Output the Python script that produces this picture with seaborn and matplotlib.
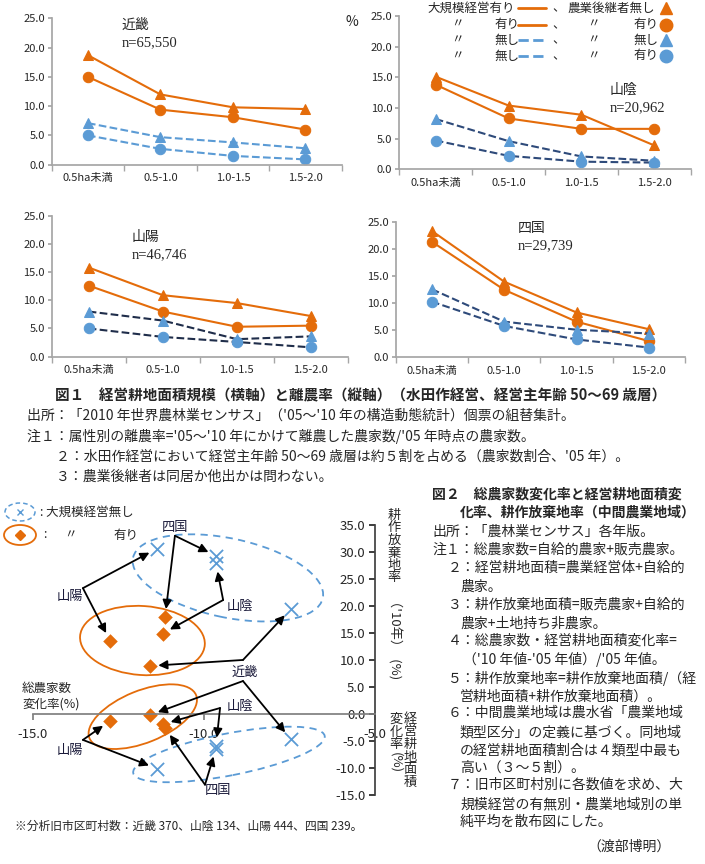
import numpy as np
import matplotlib.pyplot as plt
import seaborn as sns
from matplotlib.patches import Ellipse
from matplotlib.lines import Line2D
from matplotlib.transforms import ScaledTranslation

sns.set_theme(style="ticks")
plt.rcParams['font.family'] = ['Noto Sans CJK JP', 'DejaVu Sans']
plt.rcParams['axes.unicode_minus'] = False

# ---- 図1 のデータ (離農率 %) ----
sizes = ["0.5ha未満", "0.5-1.0", "1.0-1.5", "1.5-2.0"]
regions = ["近畿", "山陰", "山陽", "四国"]
n_farms = ["n=65,550", "n=20,962", "n=46,746", "n=29,739"]

# 大規模経営有り・農業後継者無し
large_nosucc = {"近畿": [18.7, 12.0, 9.8, 9.5], "山陰": [15.1, 10.4, 8.9, 3.9],
                "山陽": [15.8, 10.9, 9.5, 7.2], "四国": [23.4, 14.0, 8.3, 5.2]}
# 大規模経営有り・農業後継者有り
large_succ = {"近畿": [15.0, 9.4, 8.1, 6.0], "山陰": [13.8, 8.3, 6.6, 6.6],
              "山陽": [12.6, 8.0, 5.3, 5.5], "四国": [21.4, 12.5, 6.6, 3.0]}
# 大規模経営無し・農業後継者無し
small_nosucc = {"近畿": [7.1, 4.7, 3.8, 2.8], "山陰": [8.2, 4.6, 2.1, 1.4],
                "山陽": [8.0, 6.4, 3.1, 3.6], "四国": [12.6, 6.6, 5.1, 4.4]}
# 大規模経営無し・農業後継者有り
small_succ = {"近畿": [5.0, 2.7, 1.5, 0.9], "山陰": [4.7, 2.2, 1.25, 1.1],
              "山陽": [5.0, 3.5, 2.6, 1.65], "四国": [10.3, 5.8, 3.3, 1.8]}

# ---- 図2 のデータ (%) ----
sc_regions = ["近畿", "山陰", "山陽", "四国"]
farm_chg_large = [-11.58, -11.21, -12.75, -11.14]
farm_chg_small = [-7.47, -9.65, -11.38, -9.65]
abandon_large = [8.9, 14.9, 13.6, 17.9]
abandon_small = [19.4, 27.9, 30.6, 29.3]
area_chg_large = [-0.2, -1.9, -1.3, -2.6]
area_chg_small = [-4.6, -5.9, -10.1, -6.4]

W, H = 705, 864
ORANGE = "#E46C0A"
BLUE = "#5B9BD5"
GRAY = "#A6A6A6"

fig = plt.figure(figsize=(W / 100, H / 100), dpi=100)


def fx(px):
    return px / W


def fy(py):
    return 1 - py / H


def ftext(px, py, s, **kw):
    kw.setdefault("va", "center")
    kw.setdefault("ha", "left")
    return fig.text(fx(px), fy(py), s, **kw)


# ---- 図1 ----
panel_rect = {
    "近畿": [0.0733, 0.8094, 0.4113, 0.1694],
    "山陰": [0.5664, 0.8040, 0.4133, 0.1775],
    "山陽": [0.0733, 0.5872, 0.4203, 0.1632],
    "四国": [0.5613, 0.5865, 0.4103, 0.1562],
}
title_pos = {"近畿": (122, 25), "山陰": (610, 90), "山陽": (132, 237), "四国": (518, 228)}
dash_col = {"近畿": BLUE, "山陰": "#2E4A7A", "山陽": "#1F2D4A", "四国": "#2E4A7A"}

series = [
    (large_nosucc, ORANGE, "^", "-"),
    (large_succ, ORANGE, "o", "-"),
    (small_nosucc, BLUE, "^", "--"),
    (small_succ, BLUE, "o", "--"),
]

xpos = np.arange(len(sizes))
for reg, nlab in zip(regions, n_farms):
    ax = fig.add_axes(panel_rect[reg])
    for vals, col, mk, ls in series:
        lc = col if ls == "-" else dash_col[reg]
        sns.lineplot(x=xpos, y=vals[reg], ax=ax, color=lc, lw=1.5,
                     linestyle=ls, marker=None)
        sns.lineplot(x=xpos, y=vals[reg], ax=ax, color=col, lw=0,
                     marker=mk, markersize=7.5, markeredgecolor=col)
    ax.set_xlim(-0.5, len(sizes) - 0.5)
    ax.set_ylim(0, 25)
    ax.set_yticks(np.arange(0, 26, 5))
    ax.set_yticklabels([f"{v:.1f}" for v in np.arange(0, 26, 5)], fontsize=8)
    ax.set_xticks(xpos)
    ax.set_xticklabels(sizes, fontsize=8)
    ax.set_xticks(np.arange(-0.5, len(sizes), 1), minor=True)
    ax.tick_params(axis="x", which="major", length=0, pad=6)
    ax.tick_params(axis="x", which="minor", length=4, color=GRAY)
    ax.tick_params(axis="y", length=3, color=GRAY, pad=2)
    sns.despine(ax=ax)
    for sp in ["left", "bottom"]:
        ax.spines[sp].set_color(GRAY)
    ax.set_xlabel("")
    ax.set_ylabel("")
    tx, ty = title_pos[reg]
    ftext(tx, ty, reg, fontsize=10)
    ftext(tx, ty + 18, nlab, fontsize=10.5, family="Liberation Serif")

ftext(345, 22, "%", fontsize=10)

# 凡例 (図1)
leg_rows = [8, 24.5, 40, 56]
leg_left = ["大規模経営有り", "有り", "無し", "無し"]
leg_right = ["農業後継者無し", "有り", "無し", "有り"]
leg_style = [(ORANGE, "-", "^"), (ORANGE, "-", "o"), (BLUE, "--", "^"), (BLUE, "--", "o")]
for i, (yy, lt, rt, (col, ls, mk)) in enumerate(zip(leg_rows, leg_left, leg_right, leg_style)):
    if i == 0:
        ftext(427, yy, lt, fontsize=9)
        ftext(567, yy, rt, fontsize=9)
    else:
        ftext(457, yy, "〃", fontsize=9, ha="center")
        ftext(494, yy, lt, fontsize=9)
        ftext(593, yy, "〃", fontsize=9, ha="center")
        ftext(633, yy, rt, fontsize=9)
    ftext(552, yy, "、", fontsize=9)
    fig.add_artist(Line2D([fx(518), fx(546)], [fy(yy), fy(yy)], color=col, lw=2,
                          linestyle=ls, transform=fig.transFigure))
    fig.add_artist(Line2D([fx(666)], [fy(yy)], color=col, marker=mk, markersize=9,
                          lw=0, transform=fig.transFigure))

# キャプション (図1)
ftext(55, 395, "図１　経営耕地面積規模（横軸）と離農率（縦軸）（水田作経営、経営主年齢 50～69 歳層）",
      fontsize=10.5, fontweight="bold")
ftext(27, 416, "出所：「2010 年世界農林業センサス」（'05～'10 年の構造動態統計）個票の組替集計。", fontsize=10)
ftext(27, 436, "注１：属性別の離農率='05～'10 年にかけて離農した農家数/'05 年時点の農家数。", fontsize=10)
ftext(56, 457, "２：水田作経営において経営主年齢 50～69 歳層は約５割を占める（農家数割合、'05 年）。", fontsize=10)
ftext(56, 477, "３：農業後継者は同居か他出かは問わない。", fontsize=10)

# ---- 図2 ----
ax2 = fig.add_axes([0.0468, 0.0799, 0.4851, 0.3125])
ax2.set_xlim(-15, -5)
ax2.set_ylim(-15, 35)
for xs, ys in [(farm_chg_small, abandon_small), (farm_chg_small, area_chg_small)]:
    sns.scatterplot(x=xs, y=ys, ax=ax2, marker="x", color=BLUE, s=90, linewidth=1.3)
for xs, ys in [(farm_chg_large, abandon_large), (farm_chg_large, area_chg_large)]:
    sns.scatterplot(x=xs, y=ys, ax=ax2, marker="D", color=ORANGE, s=55, linewidth=0)

ax2.spines["left"].set_position(("data", -5))
ax2.spines["bottom"].set_position(("data", 0))
ax2.spines["top"].set_visible(False)
ax2.spines["right"].set_visible(False)
ax2.spines["bottom"].set_color("#808080")
ax2.spines["left"].set_color("#404040")
ax2.set_yticks(np.arange(-15, 36, 5))
ax2.set_yticklabels([f"{v:.1f}" for v in np.arange(-15, 36, 5)], fontsize=9.5)
ax2.set_xticks([-15, -10, -5])
ax2.set_xticklabels(["-15.0", "-10.0", "-5.0"], fontsize=9.5)
ax2.tick_params(axis="y", length=4, pad=3)
ax2.tick_params(axis="x", length=4, color="#808080", pad=6)
ax2.set_xlabel("")
ax2.set_ylabel("")


def add_ellipse(cx, cy, w, h, angle, color, ls):
    tr = fig.dpi_scale_trans + ScaledTranslation(cx, cy, ax2.transData)
    e = Ellipse((0, 0), w / 100, h / 100, angle=angle, fill=False, edgecolor=color,
                lw=1.3, linestyle=ls, transform=tr, clip_on=False)
    ax2.add_patch(e)


add_ellipse(-9.30, 25.2, 194, 79, -12, BLUE, (0, (4, 3)))
add_ellipse(-11.80, 13.6, 125, 69, -4, ORANGE, "-")
add_ellipse(-11.79, -0.5, 115, 52, 22, ORANGE, "-")
add_ellipse(-9.27, -7.5, 195, 42, 11, BLUE, (0, (4, 3)))

# ラベルと矢印
arrow_kw = dict(arrowstyle="-|>", color="black", lw=1.3, shrinkA=0, shrinkB=6,
                mutation_scale=13)
up_start = {"近畿": (-8.86, 10.0), "山陰": (-9.44, 21.1), "山陽": (-13.54, 23.3), "四国": (-10.85, 33.0)}
low_start = {"近畿": (-8.86, 6.1), "山陰": (-9.53, 1.1), "山陽": (-13.54, -4.8), "四国": (-9.97, -13.1)}
for i, reg in enumerate(sc_regions):
    for xs, ys, starts in [(farm_chg_small, abandon_small, up_start),
                           (farm_chg_large, abandon_large, up_start),
                           (farm_chg_small, area_chg_small, low_start),
                           (farm_chg_large, area_chg_large, low_start)]:
        ax2.annotate("", xy=(xs[i], ys[i]), xytext=starts[reg],
                     arrowprops=arrow_kw, annotation_clip=False)

lab_pos = [("近畿", -8.80, 7.8), ("山陰", -8.95, 19.9), ("山陰", -8.95, 1.35),
           ("山陽", -13.92, 21.7), ("山陽", -13.92, -6.7), ("四国", -10.85, 34.5),
           ("四国", -9.59, -14.1)]
for reg, lx, ly in lab_pos:
    ax2.text(lx, ly, reg, fontsize=9.5, ha="center", va="center", color="#1A1A3A",
             clip_on=False)

# 軸ラベル
ftext(22, 688, "総農家数", fontsize=9)
ftext(22, 704, "変化率(%)", fontsize=9)
ftext(394, 509, "\n".join("耕作放棄地率"), fontsize=9.5, ha="center", va="top",
      linespacing=0.95)
ftext(394, 594, "（'10年）  (%)", fontsize=9.5, ha="center", va="top", rotation=-90)
ftext(396, 713, "\n".join("変化率"), fontsize=9.5, ha="center", va="top", linespacing=0.95)
ftext(396, 752, "(%)", fontsize=9.5, ha="center", va="top", rotation=-90)
ftext(410, 713, "\n".join("経営耕地面積"), fontsize=9.5, ha="center", va="top",
      linespacing=0.95)

# 凡例 (図2)
fig.add_artist(Ellipse((fx(20), fy(512)), 30 / W, 18 / H, fill=False, edgecolor=BLUE,
                       lw=1.1, linestyle=(0, (3, 2)), transform=fig.transFigure))
fig.add_artist(Line2D([fx(20)], [fy(512)], marker="x", color=BLUE, markersize=5, lw=0,
                      transform=fig.transFigure))
fig.add_artist(Ellipse((fx(20), fy(535)), 32 / W, 20 / H, fill=False, edgecolor=ORANGE,
                       lw=1.3, transform=fig.transFigure))
fig.add_artist(Line2D([fx(20)], [fy(535)], marker="D", color=ORANGE, markersize=5, lw=0,
                      transform=fig.transFigure))
ftext(40, 512, ": 大規模経営無し", fontsize=9)
ftext(43, 535, ":", fontsize=9)
ftext(70, 535, "〃", fontsize=9, ha="center")
ftext(113, 535, "有り", fontsize=9)

ftext(15, 826, "※分析旧市区町村数：近畿 370、山陰 134、山陽 444、四国 239。", fontsize=8.5)

# 図2 の説明文
ftext(432, 495, "図２　総農家数変化率と経営耕地面積変", fontsize=10, fontweight="bold")
ftext(460, 513, "化率、耕作放棄地率（中間農業地域）", fontsize=10, fontweight="bold")
notes = [
    (432, 532, "出所：「農林業センサス」各年版。"),
    (432, 550, "注１：総農家数=自給的農家+販売農家。"),
    (448, 568, "２：経営耕地面積=農業経営体+自給的"),
    (460, 587, "農家。"),
    (448, 605, "３：耕作放棄地面積=販売農家+自給的"),
    (460, 624, "農家+土地持ち非農家。"),
    (448, 641, "４：総農家数・経営耕地面積変化率="),
    (463, 659, "（'10 年値-'05 年値）/'05 年値。"),
    (448, 678, "５：耕作放棄地率=耕作放棄地面積/（経"),
    (460, 697, "営耕地面積+耕作放棄地面積）。"),
    (448, 713, "６：中間農業地域は農水省「農業地域"),
    (460, 732, "類型区分」の定義に基づく。同地域"),
    (460, 750, "の経営耕地面積割合は４類型中最も"),
    (460, 768, "高い（３～５割）。"),
    (448, 785, "７：旧市区町村別に各数値を求め、大"),
    (460, 804, "規模経営の有無別・農業地域別の単"),
    (460, 822, "純平均を散布図にした。"),
    (587, 847, "（渡部博明）"),
]
for px, py, s in notes:
    ftext(px, py, s, fontsize=10)

fig.savefig("out.png", dpi=100)
